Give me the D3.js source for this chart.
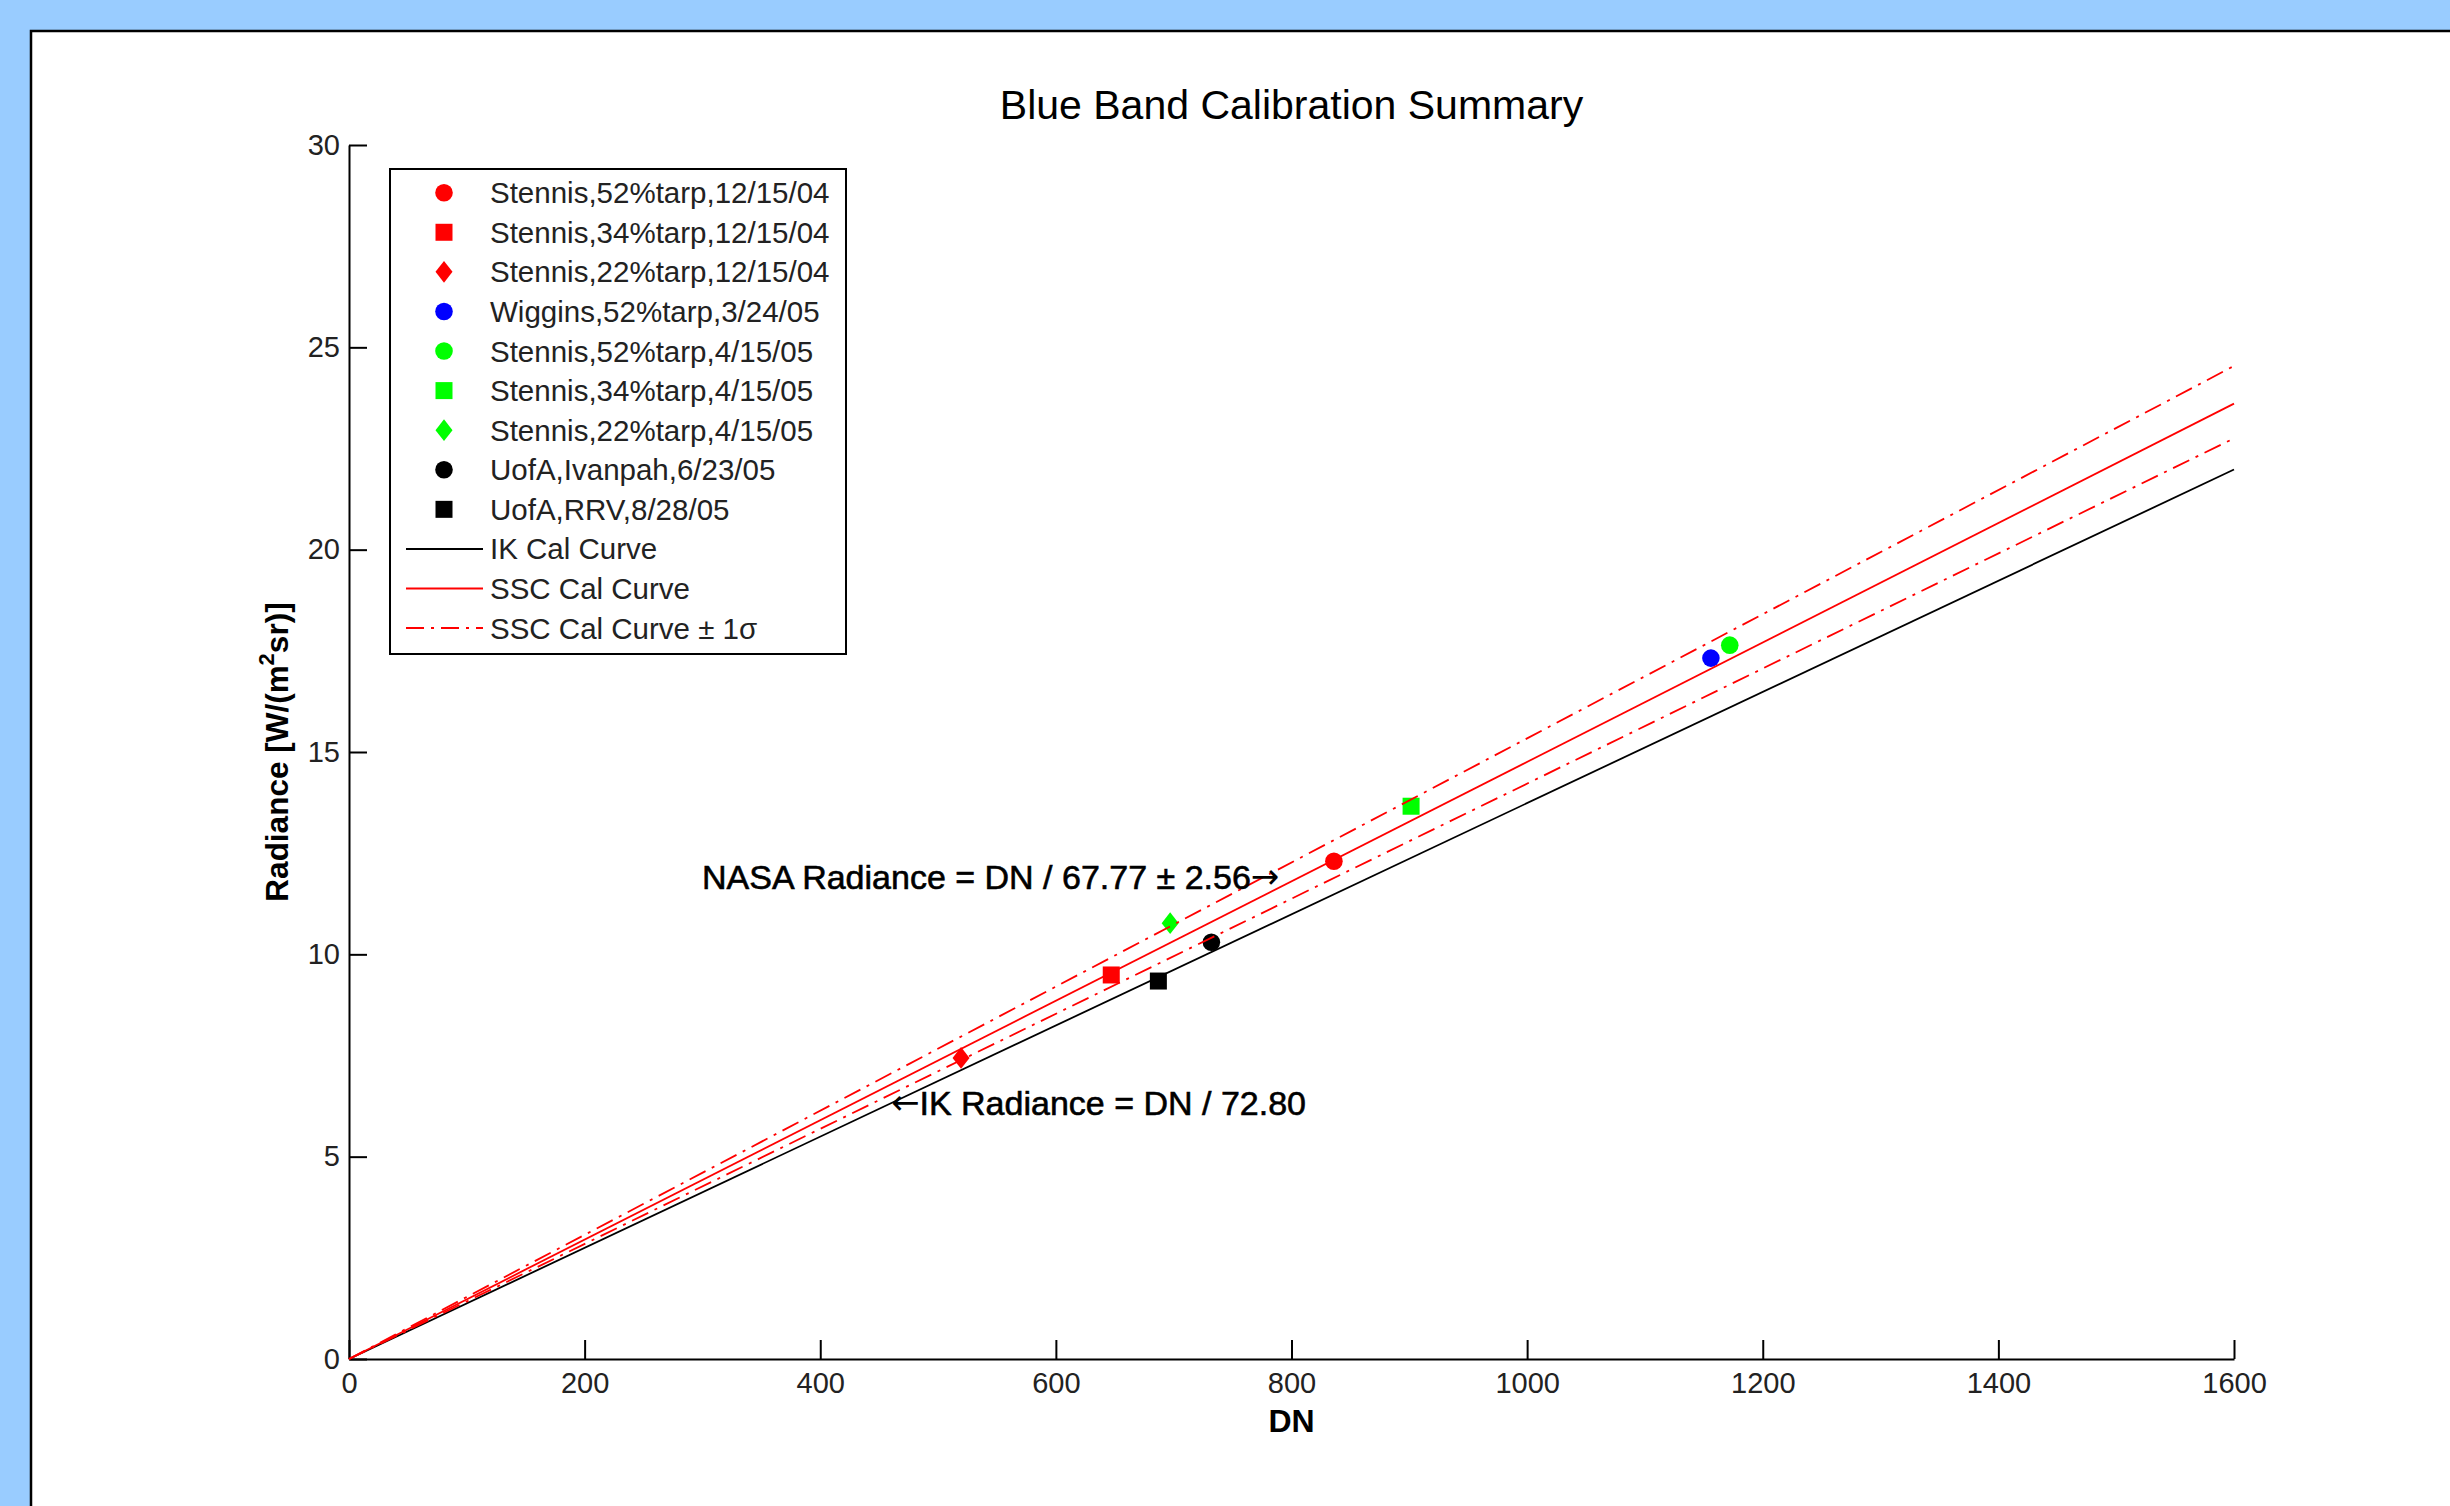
<!DOCTYPE html>
<html>
<head>
<meta charset="utf-8">
<script src="https://cdn.jsdelivr.net/npm/d3@7"></script>
<style>
  body { margin: 0; background: #99ccff; }
  svg { display: block; }
  text { font-family: "Liberation Sans", Arial, Helvetica, sans-serif; }
</style>
</head>
<body>
<script>
// ---------- data ----------
const seriesNames = [
  "Stennis,52%tarp,12/15/04",
  "Stennis,34%tarp,12/15/04",
  "Stennis,22%tarp,12/15/04",
  "Wiggins,52%tarp,3/24/05",
  "Stennis,52%tarp,4/15/05",
  "Stennis,34%tarp,4/15/05",
  "Stennis,22%tarp,4/15/05",
  "UofA,Ivanpah,6/23/05",
  "UofA,RRV,8/28/05"
];
const seriesDN        = [836, 647, 519.5, 1156, 1172, 901.5, 697, 732, 687];
const seriesRadiance  = [12.3, 9.49, 7.44, 17.32, 17.64, 13.66, 10.77, 10.3, 9.34];

const lineNames = ["IK Cal Curve", "SSC Cal Curve", "SSC Cal Curve \u00b1 1\u03c3"];
const lineDN            = [0, 1600];
const ikRadiance        = [0, 21.98];
const sscRadiance       = [0, 23.61];
const sscUpperRadiance  = [0, 24.54];
const sscLowerRadiance  = [0, 22.75];

const xTicks = [0, 200, 400, 600, 800, 1000, 1200, 1400, 1600];
const yTicks = [0, 5, 10, 15, 20, 25, 30];

const titleText = "Blue Band Calibration Summary";
const xLabelText = "DN";
const nasaNote = "NASA Radiance = DN / 67.77 \u00b1 2.56";
const ikNote = "IK Radiance = DN / 72.80";

// ---------- styles (kept separate from data) ----------
const seriesColors = ["#ff0000", "#ff0000", "#ff0000", "#0000ff", "#00ff00", "#00ff00", "#00ff00", "#000000", "#000000"];
const seriesShapes = ["circle", "square", "diamond", "circle", "circle", "square", "diamond", "circle", "square"];

const W = 2450, H = 1506;
const svg = d3.select("body").append("svg").attr("width", W).attr("height", H);

// figure panel
svg.append("rect").attr("x", 31).attr("y", 31).attr("width", W).attr("height", H)
  .attr("fill", "#ffffff").attr("stroke", "#000").attr("stroke-width", 2.5);

const x = d3.scaleLinear().domain([0, 1600]).range([349, 2234]);
const y = d3.scaleLinear().domain([0, 30]).range([1359, 145]);

// custom diamond symbol (MATLAB-like proportions)
const symbolDiamondM = {
  draw(ctx, size) {
    const w = Math.sqrt(size) * 0.5, h = w * 1.28;
    ctx.moveTo(0, -h); ctx.lineTo(w, 0); ctx.lineTo(0, h); ctx.lineTo(-w, 0); ctx.closePath();
  }
};
function symbolFor(shape) {
  if (shape === "circle") return d3.symbol().type(d3.symbolCircle).size(Math.PI * 8.8 * 8.8)();
  if (shape === "square") return d3.symbol().type(d3.symbolSquare).size(17 * 17)();
  return d3.symbol().type(symbolDiamondM).size(17 * 17)();
}

// axes
const xAxis = d3.axisBottom(x).tickValues(xTicks).tickSize(-19).tickSizeOuter(0).tickPadding(13)
  .tickFormat(d3.format("d"));
const yAxis = d3.axisLeft(y).tickValues(yTicks).tickSize(-18).tickSizeOuter(0).tickPadding(9)
  .tickFormat(d3.format("d"));

const gx = svg.append("g").attr("transform", `translate(0,${y(0)})`).call(xAxis);
const gy = svg.append("g").attr("transform", `translate(${x(0)},0)`).call(yAxis);
[gx, gy].forEach(g => {
  g.select(".domain").attr("stroke", "#000").attr("stroke-width", 2);
  g.selectAll(".tick line").attr("stroke", "#000").attr("stroke-width", 2);
  g.selectAll(".tick text").attr("fill", "#222").style("font-size", "29px")
    .style("font-family", '"Liberation Sans", Arial, sans-serif');
});

// markers (plotted first, as in the original)
const pts = seriesNames.map((n, i) => ({ name: n, dn: seriesDN[i], r: seriesRadiance[i], color: seriesColors[i], shape: seriesShapes[i] }));
svg.append("g").selectAll("path").data(pts).join("path")
  .attr("transform", d => `translate(${x(d.dn)},${y(d.r)})`)
  .attr("d", d => symbolFor(d.shape))
  .attr("fill", d => d.color);

// calibration lines
const line = d3.line().x(d => x(d[0])).y(d => y(d[1]));
const zipLine = arr => lineDN.map((v, i) => [v, arr[i]]);
const curves = [
  { data: zipLine(ikRadiance), color: "#000000", dash: null },
  { data: zipLine(sscRadiance), color: "#ff0000", dash: null },
  { data: zipLine(sscUpperRadiance), color: "#ff0000", dash: "18,7,3,7" },
  { data: zipLine(sscLowerRadiance), color: "#ff0000", dash: "18,7,3,7" }
];
svg.append("g").selectAll("path").data(curves).join("path")
  .attr("d", d => line(d.data))
  .attr("fill", "none")
  .attr("stroke", d => d.color)
  .attr("stroke-width", 1.8)
  .attr("stroke-dasharray", d => d.dash);

// title & labels
svg.append("text").attr("x", (x(0) + x(1600)) / 2).attr("y", 119)
  .attr("text-anchor", "middle").style("font-size", "41px").attr("fill", "#000").text(titleText);

svg.append("text").attr("x", (x(0) + x(1600)) / 2).attr("y", 1432)
  .attr("text-anchor", "middle").style("font-size", "32px").style("font-weight", "bold")
  .attr("fill", "#000").text(xLabelText);

const yl = svg.append("text").attr("transform", `translate(288,${(y(0) + y(30)) / 2}) rotate(-90)`)
  .attr("text-anchor", "middle").style("font-size", "31.5px").style("font-weight", "bold").attr("fill", "#000");
yl.append("tspan").text("Radiance [W/(m");
yl.append("tspan").attr("dy", -14).style("font-size", "22px").text("2");
yl.append("tspan").attr("dy", 14).text("sr)]");

// annotations
const nasa = svg.append("text").attr("x", 702).attr("y", 889).style("font-size", "34px")
  .attr("fill", "#000").attr("stroke", "#000").attr("stroke-width", 0.6);
nasa.append("tspan").text(nasaNote);
nasa.append("tspan").style("font-family", '"DejaVu Sans", sans-serif').attr("stroke-width", 0)
  .style("font-size", "34px").attr("dy", -1).text("\u2192");

const ik = svg.append("text").attr("x", 891).attr("y", 1115).style("font-size", "34px")
  .attr("fill", "#000").attr("stroke", "#000").attr("stroke-width", 0.6);
ik.append("tspan").style("font-family", '"DejaVu Sans", sans-serif').attr("stroke-width", 0)
  .attr("dy", -1).text("\u2190");
ik.append("tspan").attr("dy", 1).text(ikNote);

// legend
const lg = svg.append("g");
lg.append("rect").attr("x", 390).attr("y", 169).attr("width", 456).attr("height", 485)
  .attr("fill", "#fff").attr("stroke", "#000").attr("stroke-width", 2);
const rowY = i => 192.7 + i * 39.58;
pts.forEach((d, i) => {
  lg.append("path").attr("transform", `translate(444,${rowY(i)})`).attr("d", symbolFor(d.shape)).attr("fill", d.color);
  lg.append("text").attr("x", 490).attr("y", rowY(i) + 10.5).style("font-size", "29.5px").attr("fill", "#222").text(d.name);
});
const lineStyles = [curves[0], curves[1], curves[2]];
lineNames.forEach((n, j) => {
  const i = pts.length + j;
  lg.append("line").attr("x1", 406).attr("x2", 483).attr("y1", rowY(i)).attr("y2", rowY(i))
    .attr("stroke", lineStyles[j].color).attr("stroke-width", 2).attr("stroke-dasharray", lineStyles[j].dash);
  lg.append("text").attr("x", 490).attr("y", rowY(i) + 10.5).style("font-size", "29.5px").attr("fill", "#222").text(n);
});
</script>
</body>
</html>
